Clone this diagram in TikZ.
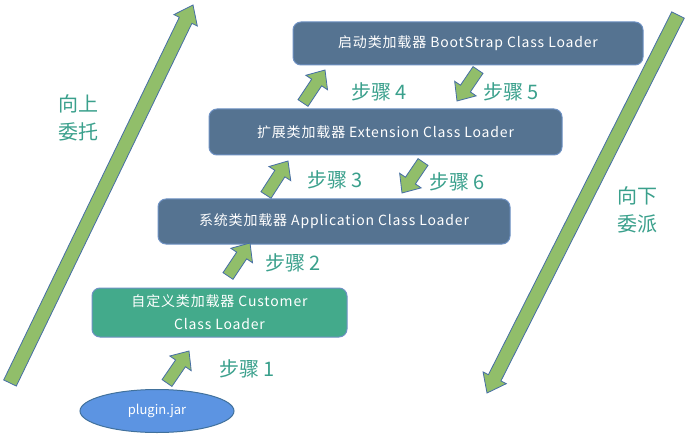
\documentclass[tikz,border=0pt]{standalone}
\usepackage{fontspec}
\setmainfont{Noto Sans CJK SC}
\usetikzlibrary{calc,shapes.geometric}
\definecolor{loaderblue}{RGB}{85,115,145}
\definecolor{loaderedge}{RGB}{110,145,195}
\definecolor{customgreen}{RGB}{67,170,139}
\definecolor{arrowgreen}{RGB}{145,190,106}
\definecolor{arrowedge}{RGB}{70,110,165}
\definecolor{jarblue}{RGB}{92,148,226}
\definecolor{jaredge}{RGB}{65,113,156}
\definecolor{stepteal}{RGB}{58,160,140}
\tikzset{
  loader/.style={draw=loaderedge, fill=loaderblue, rounded corners=8pt, line width=1pt,
    text=white, font=\fontsize{14}{23}\selectfont\addfontfeature{LetterSpace=6}, inner sep=0pt, outer sep=0pt},
  customloader/.style={loader, fill=customgreen, align=center},
  jar/.style={ellipse, draw=jaredge, fill=jarblue, line width=1pt, text=white,
    font=\fontsize{13}{15}\selectfont, inner sep=0pt},
  steplabel/.style={text=stepteal, font=\fontsize{20}{28}\selectfont, align=center},
  blockarrow/.style={draw=arrowedge, fill=arrowgreen, line width=0.8pt, line join=miter},
}
% fat arrow: from, to, half shaft, half head, head length
\newcommand{\fatarrow}[5]{%
  \coordinate (fa-n) at ($(#2)!#5!(#1)$);
  \filldraw[blockarrow] ($(#1)!#3!90:(#2)$) -- ($(fa-n)!#3!90:(#2)$) -- ($(fa-n)!#4!90:(#2)$)
    -- (#2) -- ($(fa-n)!#4!-90:(#2)$) -- ($(fa-n)!#3!-90:(#2)$) -- ($(#1)!#3!-90:(#2)$) -- cycle;
}
\begin{document}
\begin{tikzpicture}[x=1pt,y=-1pt]
\useasboundingbox[fill=white] (0,0) rectangle (700,438);
% Drawing loaders
\node[loader, minimum width=350pt, minimum height=43pt] (boot) at (468,43.5) {启动类加载器 BootStrap Class Loader};
\node[loader, minimum width=353pt, minimum height=46pt] (ext) at (385.5,132) {扩展类加载器 Extension Class Loader};
\node[loader, minimum width=352pt, minimum height=45pt] (app) at (334,221.5) {系统类加载器 Application Class Loader};
\node[customloader, minimum width=255pt, minimum height=49pt] (custom) at (219.5,312.5) {自定义类加载器 Customer\\Class Loader};
\node[jar, minimum width=154pt, minimum height=43pt] (jar) at (157,411) {plugin.jar};
% Done with loaders; drawing step arrows
\coordinate (s1a) at (167,383); \coordinate (s1b) at (189,351);
\coordinate (s2a) at (228,276); \coordinate (s2b) at (250,243);
\coordinate (s3a) at (266,195); \coordinate (s3b) at (288,161);
\coordinate (s4a) at (303,103); \coordinate (s4b) at (325,70);
\coordinate (s5a) at (478,70);  \coordinate (s5b) at (457,101);
\coordinate (s6a) at (423,162); \coordinate (s6b) at (402,193);
\foreach \s in {1,...,6} {\fatarrow{s\s a}{s\s b}{6pt}{13pt}{15pt}}
\node[steplabel] (step1) at (247,369) {步骤 1};
\node[steplabel] (step2) at (293,263) {步骤 2};
\node[steplabel] (step3) at (335,180) {步骤 3};
\node[steplabel] (step4) at (379,92) {步骤 4};
\node[steplabel] (step5) at (511,92) {步骤 5};
\node[steplabel] (step6) at (457,182) {步骤 6};
% Done with steps; drawing delegation arrows
\coordinate (upa) at (10,383);   \coordinate (upb) at (193,5);
\coordinate (downa) at (678,15); \coordinate (downb) at (487,393);
\fatarrow{upa}{upb}{7pt}{13pt}{17pt}
\fatarrow{downa}{downb}{7pt}{13pt}{17pt}
\node[steplabel] (up) at (78,118) {向上\\委托};
\node[steplabel] (down) at (637,210) {向下\\委派};
% Done with comments
\end{tikzpicture}
\end{document}
